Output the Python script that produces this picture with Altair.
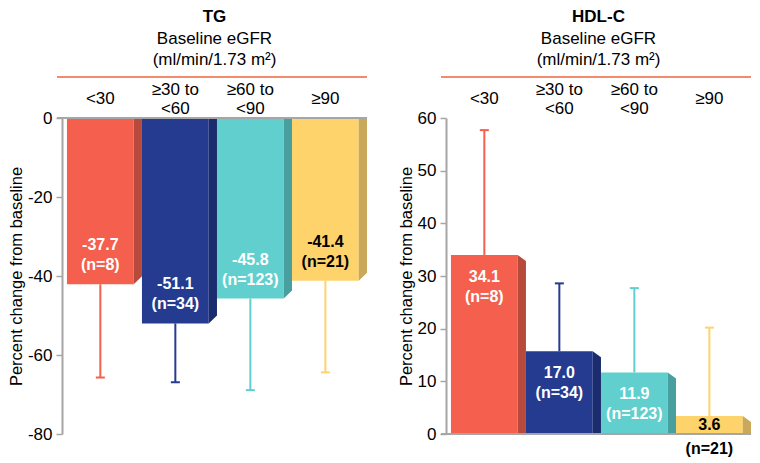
import altair as alt
import pandas as pd

# ---------------- data ----------------
categories = ["<30", "≥30 to\n<60", "≥60 to\n<90", "≥90"]

tg_bar = [-42.1, -52.0, -45.7, -41.2]
tg_err = [-65.7, -66.9, -68.9, -64.4]
tg_value_text = ["-37.7", "-51.1", "-45.8", "-41.4"]
tg_n_text = ["(n=8)", "(n=34)", "(n=123)", "(n=21)"]

hdl_bar = [34.0, 15.7, 11.7, 3.4]
hdl_err = [57.7, 28.6, 27.7, 20.2]
hdl_value_text = ["34.1", "17.0", "11.9", "3.6"]
hdl_n_text = ["(n=8)", "(n=34)", "(n=123)", "(n=21)"]

tg_ticks = [0, -20, -40, -60, -80]
hdl_ticks = [0, 10, 20, 30, 40, 50, 60]

# ---------------- style ----------------
FRONT = ["#F45F4E", "#243B8F", "#60CFCE", "#FED36C"]
SIDE = ["#B84A3C", "#1A2C6E", "#479F9F", "#C9A85A"]
TEXT_COL = ["white", "white", "white", "black"]
ORANGE = "#F5896C"
GRAY = "#a6a6a6"
FONT = "Liberation Sans"
W, H = 305, 316
FRONT_W = 0.89
X_DOMAIN = [-0.066, 4.0]
CAP_HALF = 0.06


def panel(title, bars, errs, vtext, ntext, ydomain, ticks, depth_px):
    upp = (ydomain[1] - ydomain[0]) / H  # data units per pixel
    depth = depth_px * upp
    rows, side_rows = [], []
    for i, (b, e, v, n) in enumerate(zip(bars, errs, vtext, ntext)):
        xc = i + FRONT_W / 2
        rows.append(dict(
            i=i, cat=categories[i], multi="\n" in categories[i],
            x0=i, x1=i + FRONT_W, xc=xc,
            capl=xc - CAP_HALF, capr=xc + CAP_HALF,
            bar=b, err=e, vt=v, nt=n, y0=0.0, mid=b / 2,
            front=FRONT[i], tcol=TEXT_COL[i],
            short=bool(abs(b) / upp < 45),
        ))
        sgn = 1 if b >= 0 else -1
        side_rows.append(dict(i=i, x=i + FRONT_W, y=b, y0=0.0, side=SIDE[i]))
        side_rows.append(dict(i=i, x=i + 1.0, y=b - sgn * depth, y0=0.0, side=SIDE[i]))
    df = pd.DataFrame(rows)
    sdf = pd.DataFrame(side_rows)
    negative = ydomain[1] <= 0

    xs = alt.Scale(domain=X_DOMAIN, nice=False, zero=False, padding=0)
    ys = alt.Scale(domain=ydomain, nice=False, zero=False)

    yaxis = alt.Axis(
        values=ticks, labelExpr="'' + datum.value", title="Percent change from baseline",
        titleFont=FONT, titleFontSize=16.5, titleFontWeight="normal", titleColor="black",
        titlePadding=3, labelFont=FONT, labelFontSize=17, labelColor="black",
        labelPadding=4, tickSize=6, tickColor=GRAY, tickWidth=1.5,
        domainColor=GRAY, domainWidth=2, grid=False,
    )

    def X(f):
        return alt.X(f, scale=xs, axis=None, title=None)

    def Y(f):
        return alt.Y(f, scale=ys, axis=yaxis, stack=None)

    base = alt.Chart(df)

    front = base.mark_rect().encode(
        x=X("x0:Q"), x2="x1:Q", y=Y("bar:Q"), y2="y0:Q",
        color=alt.Color("front:N", scale=None),
    )
    side = alt.Chart(sdf).mark_area().encode(
        x=X("x:Q"), y=Y("y:Q"), y2="y0:Q", detail="i:N",
        color=alt.Color("side:N", scale=None),
    )
    err = base.mark_rule(strokeWidth=2).encode(
        x=X("xc:Q"), y=Y("bar:Q"), y2="err:Q",
        color=alt.Color("front:N", scale=None),
    )
    cap = base.mark_rule(strokeWidth=2).encode(
        x=X("capl:Q"), x2="capr:Q", y=Y("err:Q"),
        color=alt.Color("front:N", scale=None),
    )
    zero = base.mark_rule(color=GRAY, strokeWidth=1.5).encode(
        x=alt.value(-5), x2=alt.value(W), y=Y("y0:Q")
    )

    txt = dict(font=FONT, fontSize=16, fontWeight="bold", baseline="middle", align="center")
    tall = base.transform_filter("!datum.short")
    short = base.transform_filter("datum.short")
    d1, d2 = (-39, -19) if negative else (22, 42)
    lab1 = tall.mark_text(dy=d1, **txt).encode(
        x=X("xc:Q"), y=Y("bar:Q"), text="vt:N", color=alt.Color("tcol:N", scale=None))
    lab2 = tall.mark_text(dy=d2, **txt).encode(
        x=X("xc:Q"), y=Y("bar:Q"), text="nt:N", color=alt.Color("tcol:N", scale=None))
    slab1 = short.mark_text(dy=0, **txt).encode(
        x=X("xc:Q"), y=Y("mid:Q"), text="vt:N", color=alt.Color("tcol:N", scale=None))
    slab2 = short.mark_text(dy=(-15 if negative else 15), color="black", **txt).encode(
        x=X("xc:Q"), y=Y("y0:Q"), text="nt:N")

    # header
    hdr = dict(font=FONT, fontSize=17, baseline="middle", align="center", color="black")
    head_df = pd.DataFrame({"t": [title]})
    h_title = alt.Chart(head_df).mark_text(fontWeight="bold", **hdr).encode(
        x=alt.value(W / 2), y=alt.value(-101), text="t:N")
    h_sub1 = alt.Chart(head_df).mark_text(**hdr).encode(
        x=alt.value(W / 2), y=alt.value(-79), text=alt.value("Baseline eGFR"))
    h_sub2 = alt.Chart(head_df).mark_text(**hdr).encode(
        x=alt.value(W / 2), y=alt.value(-58), text=alt.value("(ml/min/1.73 m²)"))
    h_line = alt.Chart(head_df).mark_rule(color=ORANGE, strokeWidth=2).encode(
        x=alt.value(-5), x2=alt.value(W), y=alt.value(-41))
    cat_multi = base.transform_filter("datum.multi").mark_text(
        lineBreak="\n", lineHeight=19, **hdr).encode(
        x=X("xc:Q"), y=alt.value(-28), text="cat:N")
    cat_single = base.transform_filter("!datum.multi").mark_text(**hdr).encode(
        x=X("xc:Q"), y=alt.value(-19), text="cat:N")

    return alt.layer(
        front, side, err, cap, zero, lab1, lab2, slab1, slab2,
        h_title, h_sub1, h_sub2, h_line, cat_multi, cat_single,
    ).properties(width=W, height=H)


left = panel("TG", tg_bar, tg_err, tg_value_text, tg_n_text, [-80, 0], tg_ticks, 8)
right = panel("HDL-C", hdl_bar, hdl_err, hdl_value_text, hdl_n_text, [0, 60], hdl_ticks, 6)

chart = alt.hconcat(left, right, spacing=30).properties(
    padding=0, background="white"
).configure_view(stroke=None)

chart.save("out.html", embed_options={"renderer": "svg", "actions": False})
